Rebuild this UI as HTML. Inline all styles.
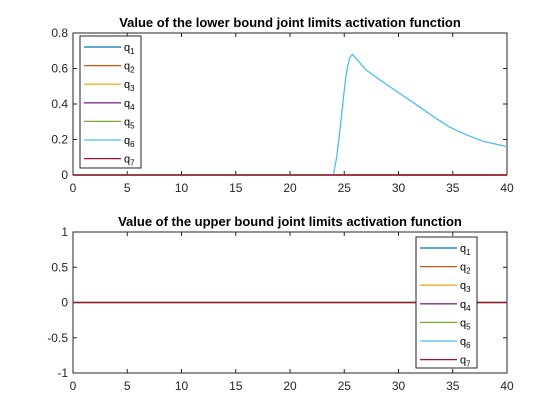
<!DOCTYPE html>
<html><head><meta charset="utf-8"><style>
body{margin:0;background:#fff}
svg{display:block;font-family:"Liberation Sans",Arial,sans-serif}
</style></head><body>
<svg id="chart" width="560" height="420" viewBox="0 0 560 420">
<rect width="560" height="420" fill="#fff"/>
</svg>
<script>
const xTicks=[0,5,10,15,20,25,30,35,40];
const topYTicks=[0,0.2,0.4,0.6,0.8];
const botYTicks=[-1,-0.5,0,0.5,1];
const seriesNames=['q1','q2','q3','q4','q5','q6','q7'];
const colors=['#0072BD','#D95319','#EDB120','#7E2F8E','#77AC30','#4DBEEE','#A2142F'];
const q6x=[0,24.0,24.3,24.6,24.9,25.1,25.3,25.5,25.75,26.2,26.6,27.05,28.3,30.1,31.7,33.2,34.7,36.3,37.8,40];
const q6y=[0,0,0.1,0.25,0.42,0.53,0.61,0.66,0.68,0.65,0.62,0.59,0.535,0.46,0.394,0.33,0.27,0.225,0.19,0.16];
const zeroX=[0,40];
const zeroY=[0,0];
const NS='http://www.w3.org/2000/svg';
const svg=document.getElementById('chart');
function mk(t,a,p){const e=document.createElementNS(NS,t);for(const k in a)e.setAttribute(k,a[k]);(p||svg).appendChild(e);return e;}
function axes(name,L,T,R,B,ymin,ymax,yTicks,title){
  const g=mk('g',{});
  
  
  const sx=v=>L+(v-0)/(40-0)*(R-L);
  const sy=v=>B-(v-ymin)/(ymax-ymin)*(B-T);
  mk('rect',{x:L,y:T,width:R-L,height:B-T,fill:'#fff',stroke:'#262626','stroke-width':1},g);
  xTicks.forEach(v=>{const x=sx(v);
    mk('line',{x1:x,x2:x,y1:B,y2:B-4,stroke:'#262626'},g);
    mk('line',{x1:x,x2:x,y1:T,y2:T+4,stroke:'#262626'},g);
    const t=mk('text',{x:x,y:B+17,'text-anchor':'middle','font-size':12,fill:'#262626'},g);t.textContent=v;
    
    });
  yTicks.forEach(v=>{const y=sy(v);
    mk('line',{x1:L,x2:L+4,y1:y,y2:y,stroke:'#262626'},g);
    mk('line',{x1:R,x2:R-4,y1:y,y2:y,stroke:'#262626'},g);
    const t=mk('text',{x:L-5,y:y+4,'text-anchor':'end','font-size':12,fill:'#262626'},g);t.textContent=v;
    
    });
  const tt=mk('text',{x:(L+R)/2,y:T-6,'text-anchor':'middle','font-size':13,'font-weight':'bold',fill:'#000'},g);tt.textContent=title;
  
  
  return {g,sx,sy};
}
function line(ax,xs,ys,c,name){
  const d=xs.map((x,i)=>(i?'L':'M')+ax.sx(x).toFixed(2)+','+ax.sy(ys[i]).toFixed(2)).join('');
  const p=mk('path',{d:d,fill:'none',stroke:c,'stroke-width':1.3,'stroke-linejoin':'round'},ax.g);
  
  
}
function legend(x,y,w,h,name){
  const g=mk('g',{});
  
  
  mk('rect',{x:x,y:y,width:w,height:h,fill:'#fff',stroke:'#262626'},g);
  seriesNames.forEach((n,i)=>{const yy=y+11+i*18.6;
    mk('line',{x1:x+4,x2:x+41,y1:yy,y2:yy,stroke:colors[i],'stroke-width':1.3},g);
    const t=mk('text',{x:x+44,y:yy+4,'font-size':11,fill:'#000'},g);
    
    
    t.textContent='q';const s=mk('tspan',{dy:3,'font-size':8},t);s.textContent=n.slice(1);});
}
const a1=axes('lower-bound-axes',73,33,507,175,0,0.8,topYTicks,'Value of the lower bound joint limits activation function');
[0,1,2,3,4,6].forEach(i=>line(a1,zeroX,zeroY,colors[i],'series-'+seriesNames[i]));
line(a1,q6x,q6y,colors[5],'series-q6');
line(a1,zeroX,zeroY,colors[6],'series-q7');
legend(80,36,61,132,'legend-lower');
const a2=axes('upper-bound-axes',73,232,507,373,-1,1,botYTicks,'Value of the upper bound joint limits activation function');
seriesNames.forEach((n,i)=>line(a2,zeroX,zeroY,colors[i],'series-upper-'+n));
legend(416,237,61,131,'legend-upper');
</script>
</body></html>
